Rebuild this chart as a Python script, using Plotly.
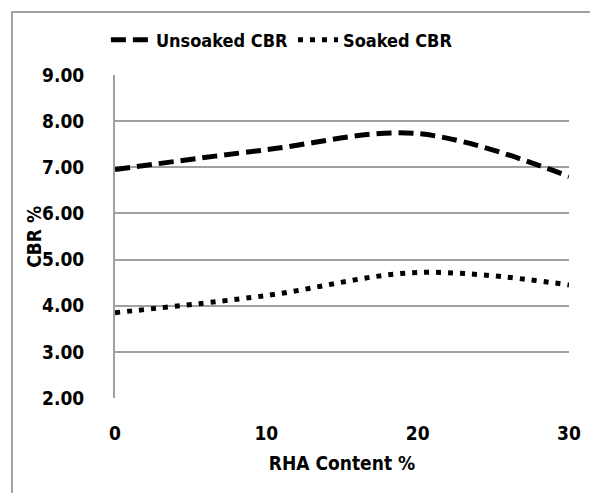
import plotly.graph_objects as go

rha = [0, 10, 20, 30]
unsoaked = [6.95, 7.38, 7.73, 6.80]
soaked = [3.85, 4.22, 4.72, 4.45]
y_ticks = [2, 3, 4, 5, 6, 7, 8, 9]
y_labels = ["2.00", "3.00", "4.00", "5.00", "6.00", "7.00", "8.00", "9.00"]
x_ticks = [0, 10, 20, 30]

FONT = "DejaVu Sans Condensed, Liberation Sans Narrow, sans-serif"
FS = 18
TFS = 19

fig = go.Figure()
fig.add_trace(go.Scatter(x=rha, y=unsoaked, mode="lines", name="<b>Unsoaked CBR</b>",
                         line=dict(color="black", width=5, dash="15px,7px", shape="spline", smoothing=1)))
fig.add_trace(go.Scatter(x=rha, y=soaked, mode="lines", name="<b>Soaked CBR</b>",
                         line=dict(color="black", width=5, dash="5px,7px", shape="spline", smoothing=1)))

fig.update_layout(
    width=598, height=493,
    margin=dict(l=107, r=37, t=67, b=103, autoexpand=False),
    paper_bgcolor="white", plot_bgcolor="white",
    font=dict(family=FONT, size=FS, color="black"),
    showlegend=True,
    legend=dict(orientation="h", x=0.458, xanchor="center", xref="container",
                y=0.935, yanchor="middle", yref="container", bgcolor="rgba(0,0,0,0)",
                font=dict(family=FONT, size=FS, color="black"), itemwidth=40, tracegroupgap=0),
    xaxis=dict(range=[0, 30], tickvals=x_ticks, ticktext=["<b>%d</b>" % v for v in x_ticks],
               showgrid=False, zeroline=False,
               showline=False, ticks="", tickfont=dict(family=FONT, size=TFS, color="black"),
               ticklabelstandoff=22,
               title=dict(text="<b>RHA Content %</b>", font=dict(family=FONT, size=TFS), standoff=13)),
    yaxis=dict(range=[2, 9], tickvals=y_ticks, ticktext=["<b>%s</b>" % t for t in y_labels],
               showgrid=True, gridcolor="#a0a0a0", gridwidth=2, zeroline=False,
               showline=True, linecolor="#a0a0a0", linewidth=2, ticks="",
               tickfont=dict(family=FONT, size=TFS, color="black"), ticklabelstandoff=25),
    shapes=[dict(type="rect", xref="paper", yref="paper", x0=-0.227, x1=1.1, y0=-0.35, y1=1.195,
                 line=dict(color="#a0a0a0", width=2), fillcolor="rgba(0,0,0,0)", layer="below")],
    annotations=[dict(text="<b>CBR %</b>", xref="paper", yref="paper", x=-0.18, y=0.5,
                      xanchor="center", yanchor="middle", textangle=-90, showarrow=False,
                      font=dict(family=FONT, size=TFS, color="black"))],
)
fig.write_html("out.html")
